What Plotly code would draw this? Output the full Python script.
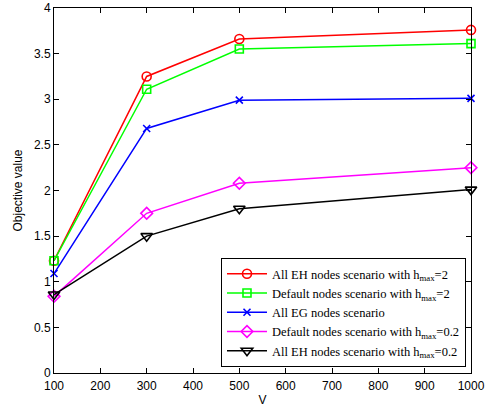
import plotly.graph_objects as go

V = [100, 300, 500, 1000]
eh_hmax2 = [1.23, 3.25, 3.66, 3.76]
default_hmax2 = [1.23, 3.11, 3.55, 3.61]
eg_all = [1.09, 2.68, 2.99, 3.01]
default_hmax02 = [0.84, 1.75, 2.08, 2.25]
eh_hmax02 = [0.86, 1.50, 1.80, 2.01]

names = [
    "All EH nodes scenario with h<sub>max</sub>=2",
    "Default nodes scenario with h<sub>max</sub>=2",
    "All EG nodes scenario",
    "Default nodes scenario with h<sub>max</sub>=0.2",
    "All EH nodes scenario with h<sub>max</sub>=0.2",
]
series = [eh_hmax2, default_hmax2, eg_all, default_hmax02, eh_hmax02]
colors = ["#ff0000", "#00ff00", "#0000ff", "#ff00ff", "#000000"]
symbols = ["circle-open", "square-open", "x-thin-open", "diamond-open", "triangle-down-open"]
sizes = [9, 8, 7, 9, 10]

fig = go.Figure()
for n, s, c, m, sz in zip(names, series, colors, symbols, sizes):
    fig.add_trace(go.Scatter(
        x=V, y=s, name=n, mode="lines+markers", cliponaxis=False,
        line=dict(color=c, width=1.5),
        marker=dict(symbol=m, size=sz, color=c, line=dict(color=c, width=1.6)),
    ))

axis_common = dict(
    showline=True, linecolor="black", linewidth=1, mirror="ticks",
    ticks="inside", ticklen=5, tickcolor="black", showgrid=False, zeroline=False,
    automargin=False, ticklabeloverflow="allow",
    tickfont=dict(family="Liberation Sans, Arial", size=12, color="black"),
    title_font=dict(family="Liberation Sans, Arial", size=12, color="black"),
)

fig.update_layout(
    width=493, height=410,
    margin=dict(l=54, r=22, t=8, b=37, autoexpand=False),
    plot_bgcolor="white", paper_bgcolor="white",
    xaxis=dict(range=[100, 1000], dtick=100, tick0=100, ticklabelstandoff=2,
               title=dict(text="V", standoff=3), **axis_common),
    yaxis=dict(range=[0, 4], dtick=0.5, title=dict(text="Objective value", standoff=8), **axis_common),
    legend=dict(
        x=0.988, xanchor="right", y=0.016, yanchor="bottom",
        bordercolor="black", borderwidth=1, bgcolor="white",
        font=dict(family="Liberation Serif, Times New Roman", size=12.5, color="black"),
        tracegroupgap=0, itemwidth=40,
    ),
)

fig.write_html(
    "out.html",
    config={"displayModeBar": False},
    post_script="document.body.style.margin='0';document.body.style.overflow='hidden';",
)
